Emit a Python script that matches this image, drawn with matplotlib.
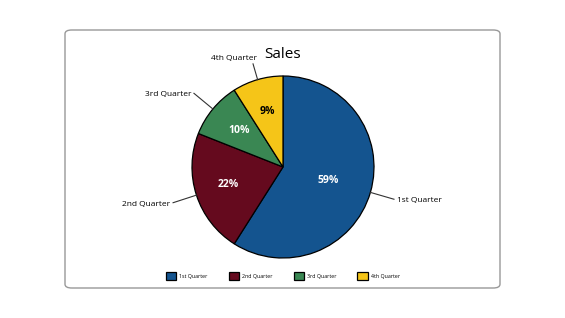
import numpy as np
import matplotlib.pyplot as plt
from matplotlib.patches import FancyBboxPatch

plt.rcParams['font.family'] = ['Open Sans', 'DejaVu Sans']

quarters = ['1st Quarter', '2nd Quarter', '3rd Quarter', '4th Quarter']
sales = [59, 22, 10, 9]
colors = ['#14548f', '#650a1e', '#3a8753', '#f5c518']
pct_colors = ['white', 'white', 'white', 'black']

fig = plt.figure(figsize=(5.65, 3.18), dpi=100)

# rounded frame around the chart
frame = FancyBboxPatch((65 / 565, 30 / 318), 435 / 565, 258 / 318,
                       boxstyle='round,pad=0,rounding_size=0.012',
                       transform=fig.transFigure, facecolor='none',
                       edgecolor='#999999', linewidth=1.0, zorder=-1)
fig.patches.append(frame)

ax = fig.add_axes([0, 0, 1, 1])
ax.set_axis_off()

wedges, texts = ax.pie(sales, colors=colors, startangle=90, counterclock=False,
                       wedgeprops=dict(edgecolor='black', linewidth=0.9))

r_px = 91
ax.set_xlim(-283 / r_px, (565 - 283) / r_px)
ax.set_ylim(-151 / r_px, 167 / r_px)
ax.set_aspect('equal')

total = sum(sales)
for w, v, c in zip(wedges, sales, pct_colors):
    mid = np.deg2rad((w.theta1 + w.theta2) / 2)
    d = 0.52 if v > 50 else 0.63
    ax.text(d * np.cos(mid), d * np.sin(mid), f'{round(100 * v / total)}%',
            ha='center', va='center', color=c, fontsize=7.5, fontweight='bold')

# outside labels with straight leader lines
for w, lab in zip(wedges, quarters):
    mid = np.deg2rad((w.theta1 + w.theta2) / 2)
    x, y = np.cos(mid), np.sin(mid)
    if y > 0.9:
        ax.plot([x, 1.18 * x], [y, 1.18 * y], color='#333333', lw=0.8)
        ax.annotate(lab, xy=(1.18 * x, 1.18 * y), xytext=(3, 1),
                    textcoords='offset points', ha='right', va='bottom', fontsize=6)
    else:
        ax.plot([x, 1.27 * x], [y, 1.27 * y], color='#333333', lw=0.8)
        ha = 'left' if x > 0 else 'right'
        ax.annotate(lab, xy=(1.27 * x, 1.27 * y), xytext=(2 if x > 0 else -2, -1),
                    textcoords='offset points', ha=ha, va='center', fontsize=6)

fig.text(283 / 565, 1 - 54 / 318, 'Sales', ha='center', va='center', fontsize=11)

fig.legend(wedges, quarters, loc='center', bbox_to_anchor=(283 / 565, 1 - 276 / 318),
           ncol=4, frameon=False, fontsize=3.8, handlelength=1.9, handleheight=1.9,
           columnspacing=4.0, handletextpad=0.6)

fig.savefig('out.png', dpi=100)
